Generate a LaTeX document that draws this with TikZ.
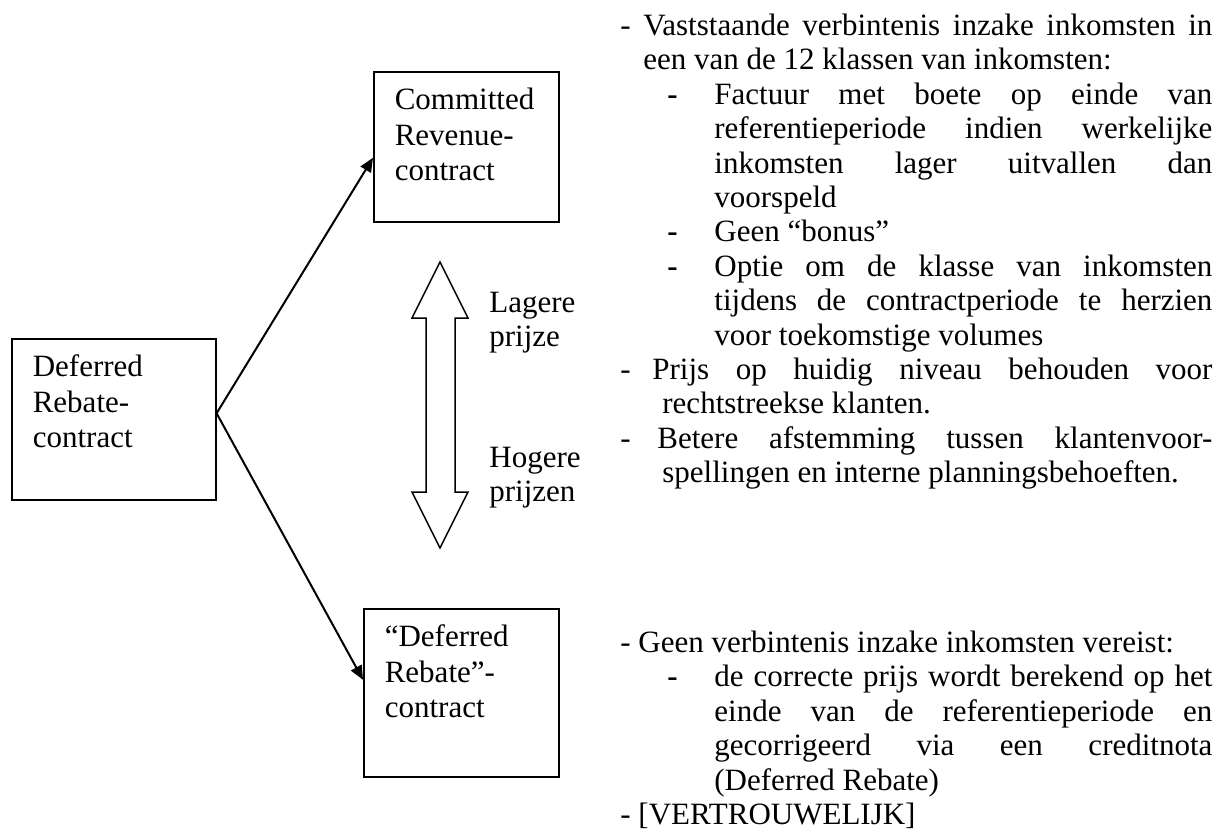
\documentclass[tikz,border=0pt]{standalone}
\usepackage{fontspec}
\setmainfont{Liberation Serif}
\usepackage{tikz}
\usetikzlibrary{arrows.meta}

\newcommand{\boxfont}{\fontsize{15.5}{17.6}\selectfont}
\newcommand{\notefont}{\fontsize{15.5}{17.2}\selectfont\tolerance=10000\hbadness=10000}
\newcommand{\lblfont}{\fontsize{15.5}{16.8}\selectfont}
\newcommand{\inbox}[3]{\parbox[c][#2][t]{#1}{\strut #3}}
\newcommand{\subdash}{\noindent\llap{\makebox[23.5pt][l]{\textbf{-}}}}

\begin{document}
\begin{tikzpicture}[x=0.5pt,y=-0.5pt,
	box/.style={draw,line width=0.8pt,anchor=north west,inner xsep=10.5pt,inner ysep=6.7pt,font=\boxfont},
	link/.style={-{Triangle[length=7pt,width=6pt]},line width=1pt},
	note/.style={anchor=north west,inner sep=0pt,text width=296pt,align=justify,font=\notefont},
	lbl/.style={anchor=north west,inner sep=0pt,align=left,font=\lblfont}]
	\useasboundingbox (0,0) rectangle (1225,829);

	\node[box] (dr) at (11,338) {\inbox{81pt}{67.1pt}{Deferred\\Rebate-\\contract}};
	\node[box] (cr) at (373,71) {\inbox{71.5pt}{61.6pt}{Committed\\Revenue-\\contract}};
	\node[box] (drb) at (363,608) {\inbox{76.5pt}{70.6pt}{“Deferred\\Rebate”-\\contract}};

	\coordinate (fork) at ([yshift=3pt]dr.east);
	\draw[link] (fork) -- ([yshift=-5.5pt]cr.west);
	\draw[link] (fork) -- ([yshift=6.5pt]drb.west);

	\draw[line width=0.75pt] (440,262) -- (468,318) -- (455,318) -- (455,492) -- (468,492) -- (440,548)
		-- (412,492) -- (426,492) -- (426,318) -- (412,318) -- cycle;
	\node[lbl] (lower) at (489,288.5) {\strut Lagere\\prijze};
	\node[lbl] (higher) at (489,443.5) {\strut Hogere\\prijzen};

	\node[note] (crnote) at (620,11) {%
		\hangindent=11.5pt\hangafter=1\noindent\strut- Vaststaande verbintenis inzake inkomsten in\linebreak een van de 12 klassen van inkomsten:\par
		\leftskip=47pt
		\subdash Factuur met boete op einde van\linebreak referentieperiode indien werkelijke\linebreak inkomsten lager uitvallen dan\linebreak voorspeld\par
		\subdash Geen “bonus”\par
		\subdash Optie om de klasse van inkomsten\linebreak tijdens de contractperiode te herzien\linebreak voor toekomstige volumes\par
		\leftskip=0pt
		\hangindent=21pt\hangafter=1\noindent\makebox[16pt][l]{-}Prijs op huidig niveau behouden voor\linebreak rechtstreekse klanten.\par
		\hangindent=21pt\hangafter=1\noindent\makebox[18.5pt][l]{-}Betere afstemming tussen klantenvoor-\linebreak spellingen en interne planningsbehoeften.\par};

	\node[note] (drbnote) at (620,628) {%
		\noindent\strut- Geen verbintenis inzake inkomsten vereist:\par
		\leftskip=47pt
		\subdash de correcte prijs wordt berekend op het\linebreak einde van de referentieperiode en\linebreak gecorrigeerd via een creditnota\linebreak (Deferred Rebate)\par
		\leftskip=0pt
		\noindent- [VERTROUWELIJK]\par};
\end{tikzpicture}
\end{document}
